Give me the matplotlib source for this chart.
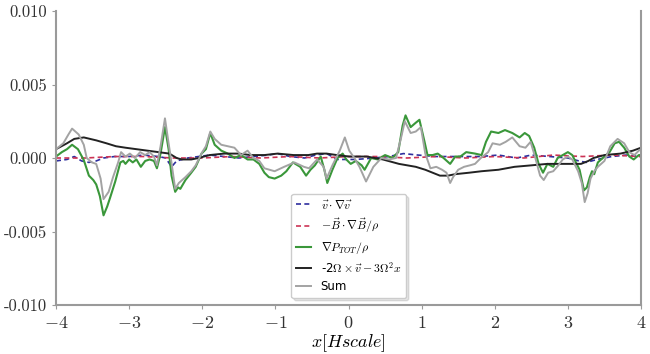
import matplotlib
matplotlib.use('Agg')
import matplotlib.pyplot as plt
import numpy as np

plt.rcParams['mathtext.fontset'] = 'cm'
plt.rcParams['font.family'] = 'DejaVu Sans'

# v . grad v  (blue dashed)
adv_x = [-4.00, -3.85, -3.75, -3.65, -3.55, -3.45, -3.35, -3.20, -3.00, -2.80,
         -2.60, -2.50, -2.42, -2.35, -2.20, -2.05, -1.90, -1.70, -1.50, -1.30,
         -1.10, -0.97, -0.80, -0.60, -0.45, -0.30, -0.15, 0.10, 0.35, 0.55,
         0.75, 0.95, 1.20, 1.50, 1.80, 2.05, 2.30, 2.50, 2.75, 3.00,
         3.15, 3.25, 3.40, 3.60, 3.80, 4.00]
adv_y = [-0.0002, -0.0001, 0.0001, -0.0002, -0.0003, -0.0002, 0.0, 0.0001, 0.0001, 0.0002,
         0.0001, 0.0, -0.0006, -0.0002, 0.0, 0.0001, 0.0002, 0.0001, 0.0, 0.0001,
         0.0002, 0.0003, 0.0001, 0.0, 0.0002, 0.0003, -0.0001, -0.0001, 0.0, 0.0001,
         0.0003, 0.0002, 0.0001, 0.0001, 0.0001, 0.0002, 0.0, 0.0002, 0.0001, 0.0,
         -0.0002, -0.0003, -0.0001, 0.0001, 0.0002, 0.0001]

# -B . grad B / rho  (red dashed)
mag_x = [-4.0, -3.6, -3.2, -2.8, -2.4, -2.0, -1.6, -1.2, -0.8, -0.4, 0.0,
         0.4, 0.8, 1.2, 1.6, 2.0, 2.4, 2.8, 3.2, 3.6, 4.0]
mag_y = [0.0, 0.0, 0.0001, 0.0001, 0.0, 0.0, 0.0001, 0.0, 0.0001, 0.0, 0.0001,
         0.0001, 0.0, 0.0001, 0.0, 0.0001, 0.0, 0.0002, 0.0001, 0.0002, 0.0001]

# grad P_tot / rho  (green)
pres_x = [-4.00, -3.92, -3.85, -3.78, -3.70, -3.62, -3.55, -3.49, -3.45, -3.40,
          -3.35, -3.30, -3.26, -3.19, -3.12, -3.08, -3.05, -3.00, -2.95, -2.90,
          -2.84, -2.78, -2.72, -2.66, -2.62, -2.57, -2.51, -2.46, -2.42, -2.37,
          -2.33, -2.30, -2.23, -2.15, -2.09, -2.01, -1.95, -1.89, -1.83, -1.74,
          -1.65, -1.56, -1.47, -1.38, -1.30, -1.22, -1.15, -1.09, -1.01, -0.92,
          -0.85, -0.76, -0.66, -0.58, -0.52, -0.46, -0.38, -0.33, -0.29, -0.22,
          -0.15, -0.08, -0.03, 0.03, 0.10, 0.18, 0.22, 0.31, 0.40, 0.50,
          0.60, 0.68, 0.74, 0.78, 0.85, 0.92, 0.97, 1.04, 1.08, 1.15,
          1.22, 1.30, 1.39, 1.46, 1.53, 1.61, 1.73, 1.82, 1.88, 1.95,
          2.05, 2.14, 2.24, 2.34, 2.41, 2.47, 2.54, 2.60, 2.66, 2.72,
          2.80, 2.86, 2.93, 3.00, 3.06, 3.11, 3.16, 3.22, 3.26, 3.30,
          3.33, 3.36, 3.41, 3.50, 3.57, 3.64, 3.70, 3.77, 3.84, 3.90,
          3.97, 4.00]
pres_y = [0.0001, 0.0004, 0.0006, 0.0009, 0.0006, -0.00014, -0.0012, -0.0015, -0.0018, -0.0026,
          -0.0039, -0.0033, -0.0027, -0.0016, -0.0003, -0.0002, -0.0004, -0.0001, -0.0003, -0.0001,
          -0.0006, -0.0002, -0.0001, -0.0002, -0.0007, 0.0003, 0.0021, 0.0006, -0.0012, -0.0023,
          -0.0020, -0.0021, -0.0015, -0.0010, -0.0006, 0.0003, 0.0006, 0.0017, 0.0009, 0.0005,
          0.0003, 0.0, 0.0002, -0.0001, -0.0001, -0.0004, -0.0010, -0.0013, -0.0014, -0.0012,
          -0.0009, -0.0003, -0.0006, -0.0012, -0.0008, -0.0005, 0.0001, -0.0008, -0.0017, -0.0008,
          0.0, 0.0003, -0.0001, -0.0004, -0.0002, -0.0005, -0.0008, 0.0, -0.0001, 0.0002,
          0.0, 0.0004, 0.0022, 0.0029, 0.0021, 0.0024, 0.0026, 0.0011, 0.0002, 0.0002,
          0.0003, 0.0, -0.0004, 0.0001, 0.0001, 0.0004, 0.0003, 0.0002, 0.0011, 0.0018,
          0.0017, 0.0019, 0.0017, 0.0014, 0.0017, 0.0015, 0.0007, -0.0004, -0.0010, -0.0004,
          -0.0006, 0.0, 0.0002, 0.0004, 0.0002, -0.0003, -0.0008, -0.0022, -0.0020, -0.0013,
          -0.0009, -0.0011, -0.0003, 0.0001, 0.0004, 0.0010, 0.0011, 0.0007, 0.0001, -0.0001,
          0.0002, 0.0002]

# -2 Omega x v - 3 Omega^2 x  (black)
rot_x = [-4.00, -3.85, -3.75, -3.62, -3.45, -3.31, -3.18, -3.05, -2.90, -2.75,
         -2.60, -2.45, -2.35, -2.28, -2.15, -2.05, -1.90, -1.70, -1.50, -1.34,
         -1.15, -0.97, -0.75, -0.55, -0.43, -0.30, -0.16, 0.01, 0.25, 0.47,
         0.69, 0.92, 1.05, 1.15, 1.25, 1.36, 1.46, 1.65, 1.82, 2.05,
         2.27, 2.50, 2.72, 2.95, 3.18, 3.28, 3.35, 3.50, 3.72, 3.89, 4.00]
rot_y = [0.0006, 0.0010, 0.0013, 0.0014, 0.0012, 0.0010, 0.0008, 0.0007, 0.0006, 0.0005,
         0.0004, 0.0003, 0.0, -0.0001, -0.0001, 0.0, 0.0002, 0.0003, 0.0003, 0.0002,
         0.0002, 0.0003, 0.0002, 0.0002, 0.0003, 0.0003, 0.0002, 0.0001, 0.0001, -0.0001,
         -0.0004, -0.0006, -0.0008, -0.0010, -0.0012, -0.0012, -0.0011, -0.0010, -0.0009, -0.0008,
         -0.0006, -0.0005, -0.0004, -0.0004, -0.0004, -0.0002, 0.0, 0.0002, 0.0003, 0.0005, 0.0007]

# Sum  (gray)
sum_x = [-4.00, -3.90, -3.83, -3.78, -3.69, -3.62, -3.58, -3.51, -3.45, -3.39,
         -3.35, -3.28, -3.22, -3.15, -3.11, -3.05, -2.99, -2.92, -2.85, -2.78,
         -2.72, -2.66, -2.62, -2.57, -2.51, -2.46, -2.43, -2.37, -2.32, -2.23,
         -2.15, -2.09, -2.00, -1.95, -1.89, -1.83, -1.74, -1.65, -1.56, -1.47,
         -1.38, -1.30, -1.22, -1.15, -1.01, -0.88, -0.74, -0.61, -0.54, -0.43,
         -0.34, -0.30, -0.22, -0.17, -0.12, -0.05, 0.01, 0.08, 0.15, 0.24,
         0.34, 0.45, 0.55, 0.65, 0.72, 0.77, 0.85, 0.92, 0.99, 1.05,
         1.12, 1.20, 1.28, 1.34, 1.39, 1.43, 1.50, 1.58, 1.66, 1.73,
         1.81, 1.91, 1.97, 2.07, 2.15, 2.24, 2.34, 2.42, 2.49, 2.55,
         2.62, 2.67, 2.73, 2.80, 2.87, 2.93, 3.00, 3.06, 3.14, 3.19,
         3.23, 3.27, 3.31, 3.36, 3.41, 3.50, 3.58, 3.68, 3.77, 3.84,
         3.91, 3.97, 4.00]
sum_y = [0.0006, 0.0010, 0.0016, 0.0020, 0.0016, 0.0009, 0.0, -0.0003, -0.0004, -0.0014,
         -0.0028, -0.0023, -0.0013, -0.0003, 0.0004, 0.0001, 0.0003, 0.0, 0.0004, 0.0002,
         0.0004, 0.0001, -0.0005, 0.0008, 0.0027, 0.0010, 0.0, -0.0021, -0.0017, -0.0013,
         -0.0009, -0.0005, 0.0004, 0.0008, 0.0018, 0.0013, 0.0009, 0.0008, 0.0007, 0.0002,
         0.0005, 0.0, -0.0002, -0.0007, -0.0009, -0.0006, -0.0003, -0.0006, -0.0007, -0.0001,
         -0.0006, -0.0014, -0.0005, 0.0, 0.0005, 0.0014, 0.0005, 0.0, -0.0006, -0.0016,
         -0.0006, 0.0, -0.0001, 0.0, 0.0014, 0.0025, 0.0017, 0.0018, 0.0021, 0.0003,
         -0.0007, -0.0006, -0.0008, -0.0010, -0.0017, -0.0013, -0.0008, -0.0006, -0.0005, -0.0004,
         0.0, 0.0004, 0.0010, 0.0009, 0.0011, 0.0014, 0.0008, 0.0007, 0.0011, 0.0001,
         -0.0012, -0.0015, -0.0010, -0.0009, -0.0005, -0.0001, 0.0001, -0.0001, -0.0009, -0.0017,
         -0.0030, -0.0024, -0.0014, -0.0009, -0.0006, -0.0002, 0.0008, 0.0013, 0.0010, 0.0004,
         0.0002, 0.0005, 0.0006]

xticks = [-4, -3, -2, -1, 0, 1, 2, 3, 4]
yticks = [-0.010, -0.005, 0.000, 0.005, 0.010]
ytick_labels = ['-0.010', '-0.005', '0.000', '0.005', '0.010']

fig, ax = plt.subplots(figsize=(6.5, 3.54), dpi=100)
fig.subplots_adjust(left=56 / 650, right=641 / 650, top=1 - 11 / 354, bottom=1 - 305 / 354)

ax.plot(adv_x, adv_y, color='#2e2e9e', lw=1.2, ls=(0, (3, 2)), label=r'$\vec{v}\cdot\nabla\vec{v}$')
ax.plot(mag_x, mag_y, color='#cc3355', lw=1.2, ls=(0, (3, 2)), label=r'$-\vec{B}\cdot\nabla\vec{B}/\rho$')
ax.plot(pres_x, pres_y, color='#3a973a', lw=1.5, solid_joinstyle='round', label=r'$\nabla P_{TOT}/\rho$')
ax.plot(rot_x, rot_y, color='#222222', lw=1.4, solid_joinstyle='round', label=r'-2$\Omega\times\vec{v}-3\Omega^2x$')
ax.plot(sum_x, sum_y, color='#a3a3a3', lw=1.4, solid_joinstyle='round', label='Sum')

ax.set_xlim(-4, 4)
ax.set_ylim(-0.010, 0.010)
ax.set_xticks(xticks)
ax.set_xticklabels([f'${v}$' for v in xticks], fontsize=13)
ax.set_yticks(yticks)
ax.set_yticklabels(ytick_labels, family='cmr10', fontsize=12)
ax.set_xlabel(r'$x[Hscale]$', fontsize=13, labelpad=0)

for side in ['left', 'bottom', 'right']:
    ax.spines[side].set_color('#9a9a9a')
    ax.spines[side].set_linewidth(1.5)
ax.spines['top'].set_visible(False)
ax.tick_params(colors='#9a9a9a', length=3, labelcolor='#333333')

ax.legend(loc='lower left', bbox_to_anchor=(0.402, 0.024), borderaxespad=0,
          fontsize=8.5, handlelength=1.3, labelspacing=0.4,
          edgecolor='#cccccc', fancybox=True, shadow={'alpha': 0.15})

plt.savefig('out.png', dpi=100)
plt.close()
